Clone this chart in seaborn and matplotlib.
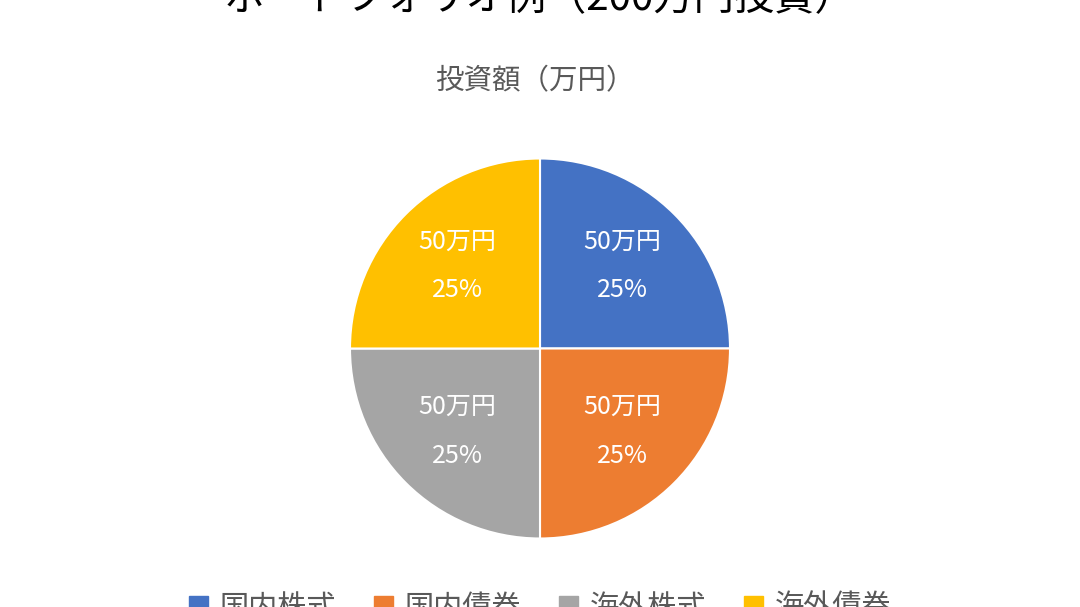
import matplotlib
matplotlib.use("Agg")
import matplotlib.pyplot as plt
from matplotlib.patches import Patch
import seaborn as sns
import pandas as pd

# Data
categories = ["国内株式", "国内債券", "海外株式", "海外債券"]
amounts = [50, 50, 50, 50]  # 万円
colors = ["#4472C4", "#ED7D31", "#A5A5A5", "#FFC000"]

title_text = "ポートフォリオ例（200万円投資）"
subtitle_text = "投資額（万円）"

sns.set_theme(style="white")
plt.rcParams["font.family"] = ["Noto Sans CJK JP", "DejaVu Sans"]

df = pd.DataFrame({"category": categories, "amount": amounts})
total = df["amount"].sum()

W, H = 1080, 607
fig = plt.figure(figsize=(W / 100, H / 100), dpi=100)
fig.patch.set_facecolor("white")

# pie axes: center (540, 348), radius 190 px
cx, cy, r = 540, 348.5, 190
ax = fig.add_axes([(cx - r) / W, (H - cy - r) / H, 2 * r / W, 2 * r / H])


def fmt(pct):
    val = pct * total / 100
    return f"{val:.0f}万円\n{pct:.0f}%"


wedges, texts, autotexts = ax.pie(
    df["amount"],
    colors=colors,
    startangle=90,
    counterclock=False,
    autopct=fmt,
    pctdistance=0.615,
    radius=1,
    wedgeprops=dict(edgecolor="white", linewidth=1.5),
    textprops=dict(color="white", fontsize=18),
)
for t in autotexts:
    t.set_linespacing(2.15)
    t.set_ha("center")
    t.set_va("center")
ax.set_xlim(-1.0, 1.0)
ax.set_ylim(-1.0, 1.0)
ax.set_axis_off()

# titles
fig.text(0.5, 1 - 10 / H, title_text, ha="center", va="baseline",
         fontsize=29, color="black")
fig.text(535 / W, 1 - 81 / H, subtitle_text, ha="center", va="center",
         fontsize=20.5, color="#595959")

# legend
handles = [Patch(facecolor=c, edgecolor=c) for c in colors]
fig.legend(handles, categories, loc="center", bbox_to_anchor=(0.5, 1 - 608 / H),
           ncol=4, frameon=False, fontsize=21, labelcolor="#595959",
           handlelength=0.65, handleheight=0.65, handletextpad=0.4,
           columnspacing=1.3)

fig.savefig("out.png", dpi=100, facecolor="white")
